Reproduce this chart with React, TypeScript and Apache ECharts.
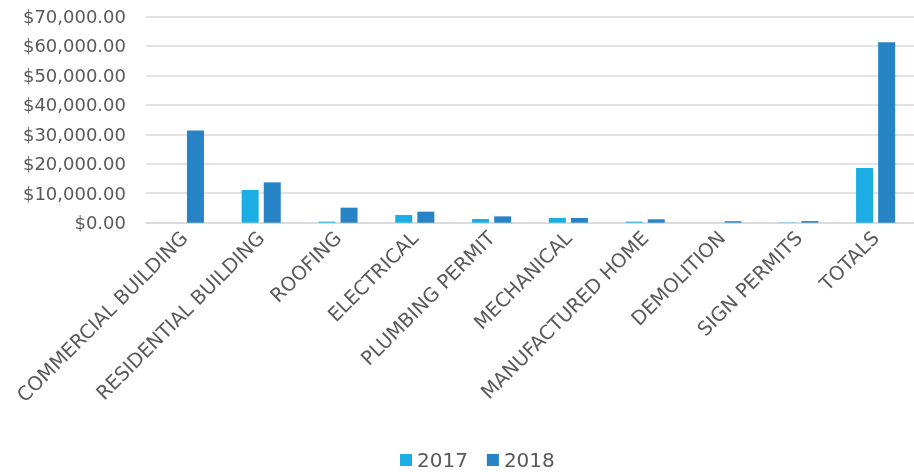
import React, { useEffect, useRef } from "react";
import * as echarts from "echarts";

const categories = [
  "COMMERCIAL BUILDING",
  "RESIDENTIAL BUILDING",
  "ROOFING",
  "ELECTRICAL",
  "PLUMBING PERMIT",
  "MECHANICAL",
  "MANUFACTURED HOME",
  "DEMOLITION",
  "SIGN PERMITS",
  "TOTALS",
];
const values2017 = [0, 11100, 350, 2600, 1250, 1600, 350, 0, 100, 18550];
const values2018 = [31300, 13700, 5100, 3750, 2150, 1600, 1150, 500, 550, 61300];

const FONT = "DejaVu Sans";

export default function App() {
  const ref = useRef<HTMLDivElement>(null);
  useEffect(() => {
    if (!ref.current) return;
    const chart = echarts.init(ref.current, undefined, { renderer: "svg" });
    chart.setOption({
      animation: false,
      textStyle: { fontFamily: FONT },
      grid: { left: 146, right: -9, top: 16.5, bottom: 249.3, containLabel: false },
      legend: {
        top: 450,
        left: 400,
        padding: 0,
        icon: "rect",
        itemWidth: 12,
        itemHeight: 12,
        itemGap: 19,
        textStyle: { fontFamily: FONT, fontSize: 20, color: "#595959" },
        data: ["2017", "2018"],
      },
      xAxis: {
        type: "category",
        data: categories,
        axisLine: { show: true, lineStyle: { color: "#d9d9d9", width: 1.5 } },
        axisTick: { show: false },
        axisLabel: {
          interval: 0,
          rotate: 45,
          fontFamily: FONT,
          fontSize: 19.5,
          color: "#595959",
          margin: 12,
        },
      },
      yAxis: {
        type: "value",
        min: 0,
        max: 70000,
        interval: 10000,
        axisLine: { show: false },
        axisTick: { show: false },
        splitLine: { lineStyle: { color: "#d9d9d9", width: 1.5 } },
        axisLabel: {
          fontFamily: FONT,
          fontSize: 18,
          color: "#595959",
          margin: 20,
          formatter: (v: number) =>
            "$" + v.toLocaleString("en-US", { minimumFractionDigits: 2, maximumFractionDigits: 2 }),
        },
      },
      series: [
        {
          name: "2017",
          type: "bar",
          data: values2017,
          barWidth: 17,
          barGap: "30%",
          itemStyle: { color: "#1CADE4" },
        },
        {
          name: "2018",
          type: "bar",
          data: values2018,
          barWidth: 17,
          barGap: "30%",
          itemStyle: { color: "#2683C6" },
        },
      ],
    });
    return () => chart.dispose();
  }, []);
  return (
    <div
      ref={ref}
      style={{ position: "fixed", left: 0, top: 0, width: 914, height: 472 }}
    />
  );
}
